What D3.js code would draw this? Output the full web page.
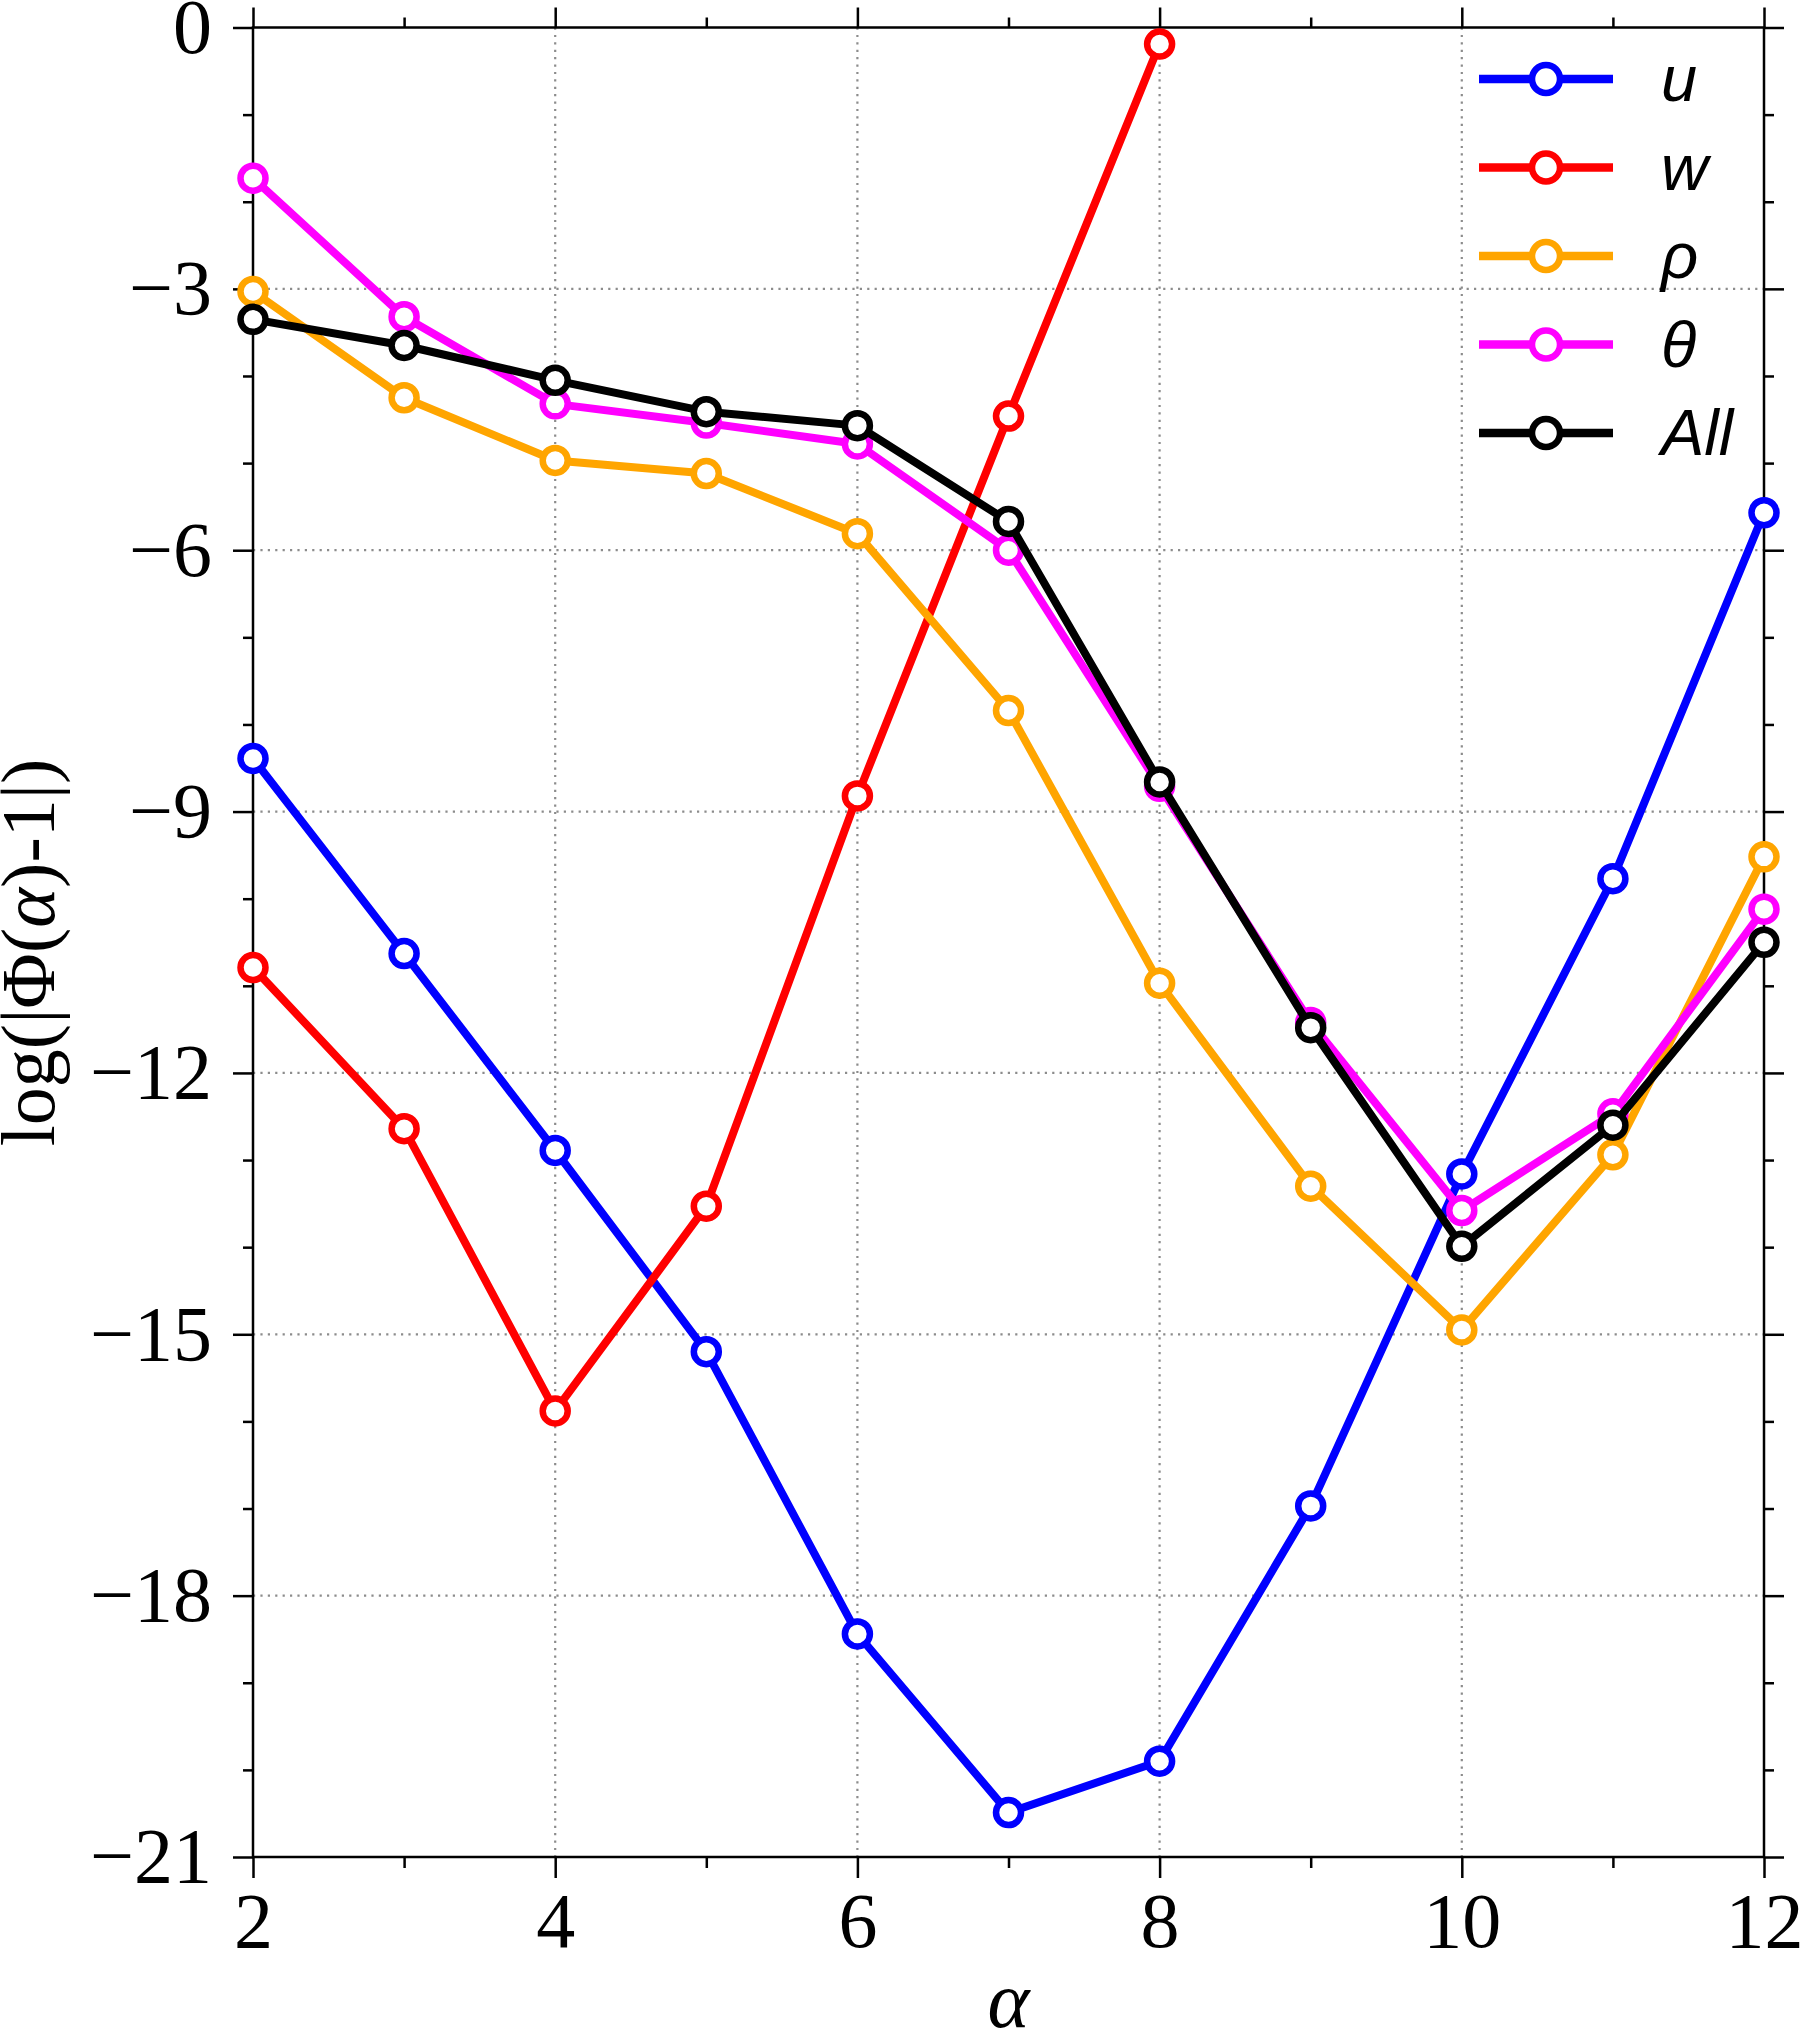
<!DOCTYPE html>
<html>
<head>
<meta charset="utf-8">
<script src="https://cdn.jsdelivr.net/npm/d3@7"></script>
<style>
  body { margin: 0; background: #fff; }
  svg { display: block; }
</style>
</head>
<body>
<svg id="chart" width="1800" height="2032"></svg>
<script>
// values
const alphas = [2, 3, 4, 5, 6, 7, 8, 9, 10, 11, 12];
const uVals     = [-8.39, -10.63, -12.89, -15.2, -18.44, -20.49, -19.9, -16.97, -13.16, -9.77, -5.57];
const wVals     = [-10.79, -12.64, -15.88, -13.53, -8.82, -4.46, -0.19];
const rhoVals   = [-3.03, -4.25, -4.97, -5.12, -5.81, -7.84, -10.97, -13.3, -14.95, -12.94, -9.52];
const thetaVals = [-1.73, -3.32, -4.32, -4.54, -4.78, -6.0, -8.71, -11.42, -13.58, -12.47, -10.12];
const allVals   = [-3.35, -3.65, -4.05, -4.41, -4.57, -5.67, -8.66, -11.48, -13.99, -12.6, -10.5];
const seriesNames  = ['u', 'w', 'ρ', 'θ', 'All'];
const seriesColors = ['#0000ff', '#ff0000', '#ffa500', '#ff00ff', '#000000'];
const xMajor = [2, 4, 6, 8, 10, 12];
const xMinor = [3, 5, 7, 9, 11];
const yMajor = [0, -3, -6, -9, -12, -15, -18, -21];
const yMinor = d3.range(0, -22, -1).filter(v => v % 3 !== 0);

const series = [uVals, wVals, rhoVals, thetaVals, allVals].map((vals, i) => ({
  name: seriesNames[i],
  color: seriesColors[i],
  points: vals.map((v, j) => ({x: alphas[j], y: v}))
}));

const svg = d3.select('#chart');
const m = {l: 253, t: 27.5, r: 36, b: 175};
const W = 1800 - m.l - m.r, H = 2032 - m.t - m.b;
const x = d3.scaleLinear().domain([2, 12]).range([0, W]);
const y = d3.scaleLinear().domain([-21, 0]).range([H, 0]);
const serif = '"Liberation Serif", "Times New Roman", serif';
const fmt = d => d < 0 ? '\u2212' + Math.abs(d) : '' + d;

const g = svg.append('g').attr('transform', `translate(${m.l},${m.t})`);

// dotted grid at major ticks
g.append('g').selectAll('line').data(xMajor.slice(1, -1)).join('line')
  .attr('x1', d => x(d)).attr('x2', d => x(d)).attr('y1', 0).attr('y2', H)
  .attr('stroke', '#8c8c8c').attr('stroke-width', 2.2).attr('stroke-dasharray', '2.2,5.2');
g.append('g').selectAll('line').data(yMajor.slice(1, -1)).join('line')
  .attr('y1', d => y(d)).attr('y2', d => y(d)).attr('x1', 0).attr('x2', W)
  .attr('stroke', '#8c8c8c').attr('stroke-width', 2.2).attr('stroke-dasharray', '2.2,5.2');

// axes: major ticks with labels, minor ticks without, all pointing out
function styleAxis(sel) {
  sel.select('.domain').remove();
  sel.selectAll('line').attr('stroke', '#000').attr('stroke-width', 2.5);
  sel.selectAll('text').attr('font-family', serif).attr('font-size', 78).attr('fill', '#000');
}
g.append('g').attr('transform', `translate(0,${H})`)
  .call(d3.axisBottom(x).tickValues(xMajor).tickSize(21).tickPadding(14).tickFormat(fmt))
  .call(styleAxis);
g.append('g').attr('transform', `translate(0,${H})`)
  .call(d3.axisBottom(x).tickValues(xMinor).tickSize(11).tickFormat(''))
  .call(styleAxis);
g.append('g')
  .call(d3.axisTop(x).tickValues(xMajor).tickSize(20).tickFormat(''))
  .call(styleAxis);
g.append('g')
  .call(d3.axisTop(x).tickValues(xMinor).tickSize(10).tickFormat(''))
  .call(styleAxis);
g.append('g')
  .call(d3.axisLeft(y).tickValues(yMajor).tickSize(20).tickPadding(21).tickFormat(fmt))
  .call(styleAxis);
g.append('g')
  .call(d3.axisLeft(y).tickValues(yMinor).tickSize(10).tickFormat(''))
  .call(styleAxis);
g.append('g').attr('transform', `translate(${W},0)`)
  .call(d3.axisRight(y).tickValues(yMajor).tickSize(20).tickFormat(''))
  .call(styleAxis);
g.append('g').attr('transform', `translate(${W},0)`)
  .call(d3.axisRight(y).tickValues(yMinor).tickSize(10).tickFormat(''))
  .call(styleAxis);

g.append('rect')
  .attr('width', W).attr('height', H)
  .attr('fill', 'none').attr('stroke', '#000').attr('stroke-width', 2.5);

// series lines + hollow markers
const line = d3.line().x(d => x(d.x)).y(d => y(d.y));
series.forEach(s => {
  const sg = g.append('g');
  sg.append('path').datum(s.points)
    .attr('d', line).attr('fill', 'none')
    .attr('stroke', s.color).attr('stroke-width', 8).attr('stroke-linejoin', 'round');
  sg.selectAll('circle').data(s.points).join('circle')
    .attr('cx', d => x(d.x)).attr('cy', d => y(d.y)).attr('r', 12.5)
    .attr('fill', '#fff').attr('stroke', s.color).attr('stroke-width', 6.5);
});

// legend (no frame)
const lg = svg.append('g').attr('transform', 'translate(1479,79)');
series.forEach((s, i) => {
  const row = lg.append('g').attr('transform', `translate(0,${i * 88.5})`);
  row.append('line').attr('x1', 0).attr('x2', 134)
    .attr('stroke', s.color).attr('stroke-width', 8.5);
  row.append('circle').attr('cx', 67).attr('r', 14)
    .attr('fill', '#fff').attr('stroke', s.color).attr('stroke-width', 6.5);
  row.append('text').attr('x', 182).attr('y', 22)
    .attr('font-family', '"Liberation Sans", Arial, sans-serif')
    .attr('font-style', 'italic').attr('font-size', 65)
    .text(s.name);
});

// axis titles
svg.append('text')
  .attr('x', m.l + W / 2).attr('y', 2027)
  .attr('text-anchor', 'middle')
  .attr('font-family', serif).attr('font-size', 80).attr('font-style', 'italic')
  .text('α');

const yt = svg.append('text')
  .attr('transform', `translate(54,${m.t + 925}) rotate(-90)`)
  .attr('text-anchor', 'middle')
  .attr('font-family', serif).attr('font-size', 76);
yt.append('tspan').text('log(|Φ(');
yt.append('tspan').attr('font-style', 'italic').text('α');
yt.append('tspan').text(')-1|)');
</script>
</body>
</html>
